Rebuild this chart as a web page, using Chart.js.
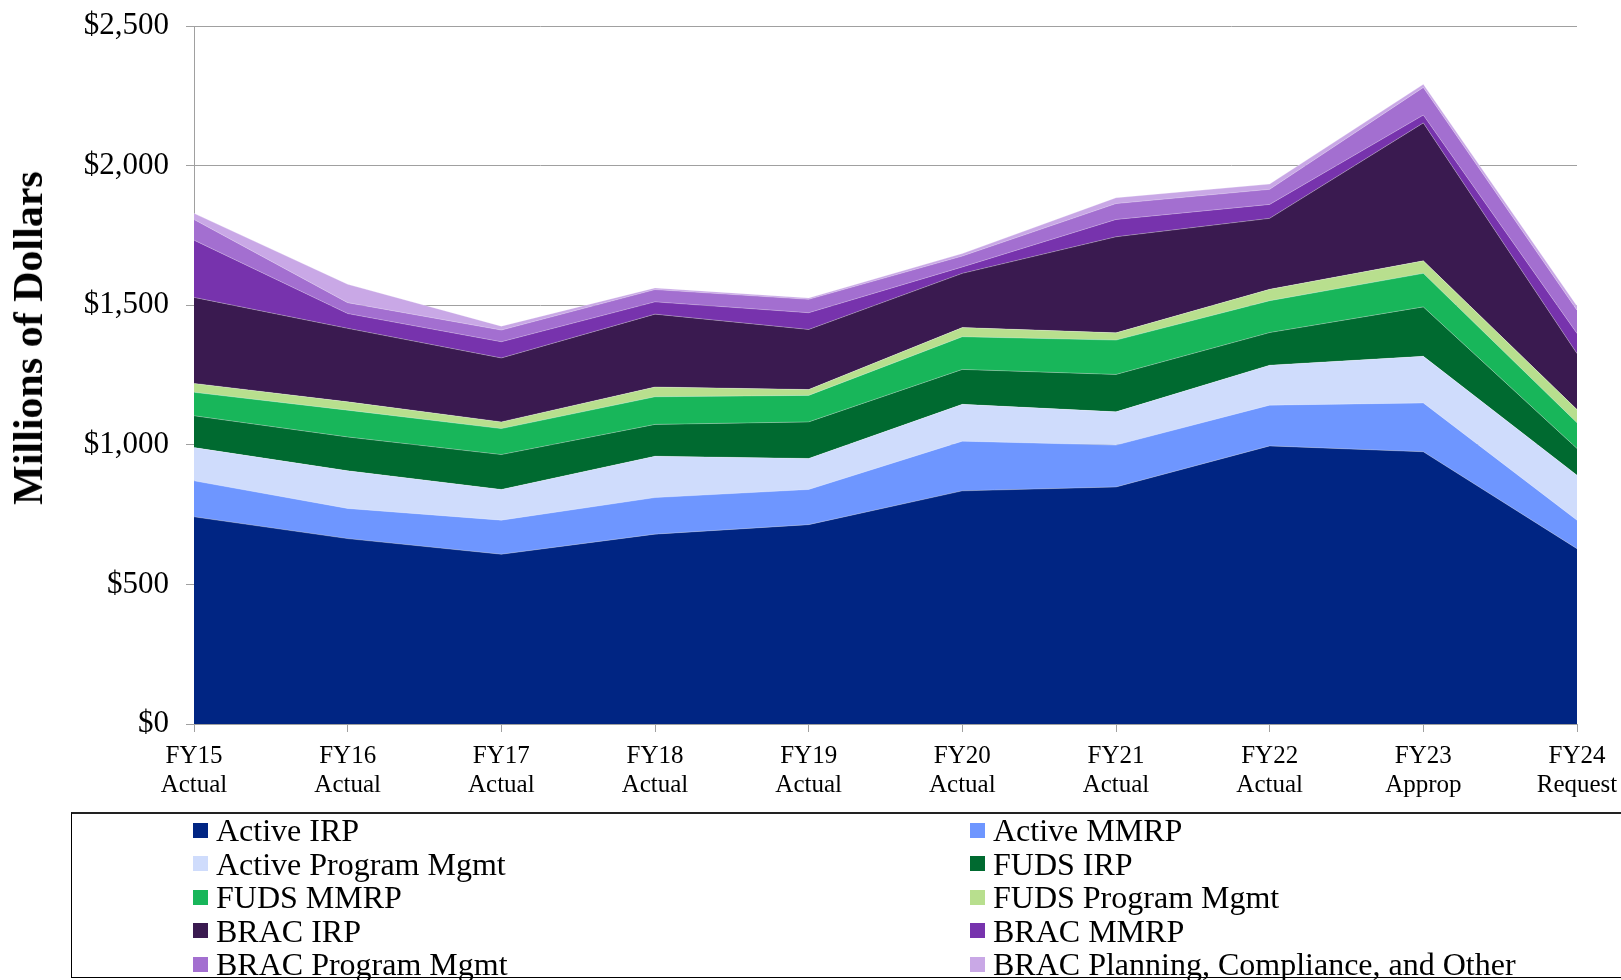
<!DOCTYPE html>
<html><head><meta charset="utf-8">
<script src="https://cdn.jsdelivr.net/npm/chart.js@4.4.0/dist/chart.umd.min.js"></script>
<style>
html,body{margin:0;padding:0;background:#fff;overflow:hidden;}
#wrap{position:relative;width:1621px;height:980px;}
#legend{position:absolute;left:71px;top:812px;width:1620px;height:166px;border:1.5px solid #000;border-top:2px solid #222;box-sizing:border-box;font-family:"Liberation Serif","Times New Roman",serif;font-size:32px;color:#000;}
.item{position:absolute;display:flex;align-items:center;white-space:nowrap;line-height:1;height:32px;}
.sw{width:15px;height:15px;margin-right:8px;flex:none;}
#ytitle{position:absolute;left:28px;top:338px;transform:translate(-50%,-50%) rotate(-90deg);white-space:nowrap;font-family:"Liberation Serif","Times New Roman",serif;font-weight:bold;font-size:42px;line-height:1;color:#000;}
</style></head><body>
<div id="wrap"><canvas id="c" width="1621" height="980"></canvas><div id="ytitle">Millions of Dollars</div><div id="legend"></div></div>
<script>
const categories = [["FY15","Actual"],["FY16","Actual"],["FY17","Actual"],["FY18","Actual"],["FY19","Actual"],["FY20","Actual"],["FY21","Actual"],["FY22","Actual"],["FY23","Approp"],["FY24","Request"]];
const seriesNames = ["Active IRP","Active MMRP","Active Program Mgmt","FUDS IRP","FUDS MMRP","FUDS Program Mgmt","BRAC IRP","BRAC MMRP","BRAC Program Mgmt","BRAC Planning, Compliance, and Other"];
const activeIRP   = [742, 664, 608, 680, 714, 835, 849, 996, 975, 628];
const activeMMRP  = [129, 108, 122, 131, 126, 178, 150, 146, 175, 102];
const activePM    = [119, 135, 110, 148, 111, 132, 119, 143, 167, 161];
const fudsIRP     = [114, 121, 125, 114, 131, 125, 134, 117, 177, 96];
const fudsMMRP    = [84, 96, 93, 99, 95, 117, 123, 114, 120, 92];
const fudsPM      = [32, 30, 24, 35, 21, 33, 26, 41, 45, 47];
const bracIRP     = [308, 263, 229, 261, 215, 194, 344, 254, 494, 201];
const bracMMRP    = [205, 53, 58, 44, 60, 23, 62, 50, 28, 72];
const bracPM      = [74, 39, 42, 44, 48, 39, 57, 54, 99, 83];
const bracOther   = [22, 66, 14, 6, 5, 9, 21, 19, 11, 15];
const yTicks = [0, 500, 1000, 1500, 2000, 2500];

const seriesValues = [activeIRP, activeMMRP, activePM, fudsIRP, fudsMMRP, fudsPM, bracIRP, bracMMRP, bracPM, bracOther];
const colors = ["#002583","#6e96ff","#cfdcfc","#006a30","#18b65a","#b8df8e","#3a1a50","#7733ad","#a36fd0","#c9a8e6"];
const FONT = '"Liberation Serif","Times New Roman",serif';

const datasets = seriesNames.map((n, i) => ({
  label: n,
  data: seriesValues[i],
  backgroundColor: colors[i],
  borderColor: 'rgba(255,255,255,0.35)',
  borderWidth: 0.8,
  pointRadius: 0,
  tension: 0,
  fill: i === 0 ? 'origin' : '-1'
}));

const chart = new Chart(document.getElementById('c'), {
  type: 'line',
  data: { labels: categories, datasets },
  options: {
    responsive: false,
    animation: false,
    devicePixelRatio: 1,
    layout: { padding: { left: 0, right: 44, top: 26, bottom: 166 } },
    plugins: { legend: { display: false }, tooltip: { enabled: false } },
    scales: {
      x: {
        offset: false,
        grid: { display: true, drawOnChartArea: false, drawTicks: true, tickLength: 8, color: '#a0a0a0' },
        border: { color: '#a0a0a0', width: 1 },
        ticks: { color: '#000', font: { family: FONT, size: 25, lineHeight: 1.15 }, padding: 10, maxRotation: 0, autoSkip: false },
        afterFit(s) { s.height = 90; s.paddingLeft = 0; s.paddingRight = 0; }
      },
      y: {
        stacked: true,
        min: 0, max: 2500,
        afterBuildTicks(s) { s.ticks = yTicks.map(v => ({ value: v })); },
        grid: { color: '#a0a0a0', tickLength: 8, lineWidth: 1 },
        border: { color: '#a0a0a0', width: 1 },
        ticks: { color: '#000', font: { family: FONT, size: 31 }, padding: 17,
          callback: v => '$' + Number(v).toLocaleString('en-US') },
        title: { display: false },
        afterFit(s) { s.width = 194; s.paddingTop = 0; s.paddingBottom = 0; }
      }
    }
  }
});

// HTML legend from the chart's own datasets
const lg = document.getElementById('legend');
chart.data.datasets.forEach((ds, i) => {
  const row = Math.floor(i / 2), col = i % 2;
  const d = document.createElement('div');
  d.className = 'item';
  d.style.left = (col === 0 ? 121 : 898) + 'px';
  d.style.top = (0 + row * 33.6) + 'px';
  const sw = document.createElement('span');
  sw.className = 'sw';
  sw.style.background = ds.backgroundColor;
  const t = document.createElement('span');
  t.textContent = ds.label;
  d.appendChild(sw); d.appendChild(t);
  lg.appendChild(d);
});
</script>
</body></html>
